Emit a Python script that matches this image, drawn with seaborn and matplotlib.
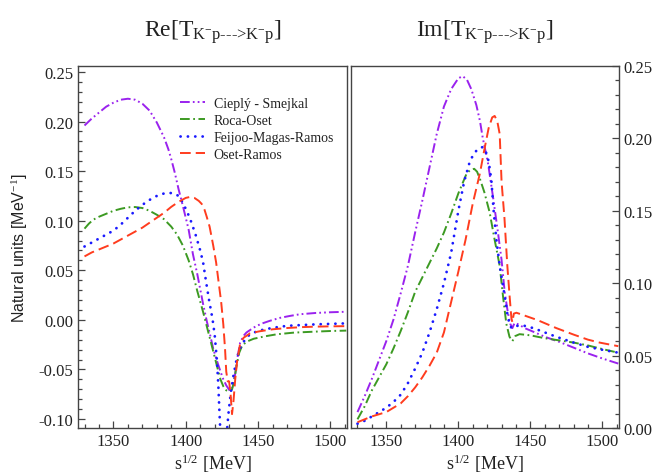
import matplotlib
matplotlib.use("Agg")
import matplotlib.pyplot as plt
from matplotlib.ticker import MultipleLocator, FormatStrFormatter
import seaborn as sns

# ---------------- data: Re[T(K-p -> K-p)] ----------------
re_cs_e = [1330, 1335, 1340, 1345, 1350, 1355, 1360, 1365, 1370, 1375, 1380, 1385, 1388,
           1390, 1392.5, 1395, 1398, 1402, 1405, 1408, 1410, 1412, 1414.5, 1417, 1419,
           1421.5, 1424, 1426, 1428, 1430.5, 1432, 1434, 1436, 1437.6, 1440, 1442, 1447,
           1452, 1458, 1465, 1472, 1479, 1490, 1500, 1511]
re_cs_v = [0.196, 0.203, 0.209, 0.215, 0.219, 0.222, 0.223, 0.222, 0.218, 0.211, 0.199, 0.184, 0.172,
           0.162, 0.148, 0.132, 0.115, 0.091, 0.066, 0.046, 0.031, 0.016, -0.001, -0.016, -0.029,
           -0.041, -0.052, -0.060, -0.066, -0.0715, -0.069, -0.056, -0.036, -0.023, -0.016, -0.0127, -0.0077,
           -0.004, -0.001, 0.002, 0.004, 0.0057, 0.007, 0.0077, 0.0082]

re_ro_e = [1330, 1333, 1336, 1340, 1345, 1350, 1355, 1360, 1365, 1370, 1375, 1380, 1385,
           1390, 1394, 1398, 1402, 1405, 1408, 1412, 1415, 1418, 1421.5, 1424, 1426, 1428,
           1430, 1432, 1433.5, 1435, 1437, 1439, 1442, 1447, 1455, 1463, 1475, 1490, 1500, 1511]
re_ro_v = [0.092, 0.097, 0.101, 0.104, 0.107, 0.110, 0.112, 0.1135, 0.1138, 0.1128, 0.110, 0.106, 0.1015,
           0.094, 0.086, 0.075, 0.060, 0.046, 0.029, 0.008, -0.009, -0.026, -0.046, -0.060, -0.067, -0.071,
           -0.0725, -0.070, -0.062, -0.047, -0.033, -0.026, -0.022, -0.019, -0.0165, -0.0145, -0.0128, -0.0118, -0.0112, -0.0108]

re_fmr_e = [1330, 1335, 1340, 1345, 1350, 1355, 1360, 1365, 1370, 1375, 1380, 1385, 1389,
            1392, 1395, 1398, 1401, 1404, 1407, 1410, 1412, 1414, 1416, 1418.5, 1420, 1421.5,
            1422.5, 1423.3, 1424, 1426, 1428, 1429.5, 1431, 1433, 1435, 1437, 1440, 1444,
            1450, 1460, 1470, 1480, 1490, 1500, 1511]
re_fmr_v = [0.074, 0.078, 0.082, 0.086, 0.090, 0.096, 0.103, 0.110, 0.116, 0.121, 0.125, 0.1275, 0.128,
            0.1275, 0.125, 0.118, 0.109, 0.098, 0.085, 0.070, 0.058, 0.039, 0.021, 0.001, -0.015, -0.040,
            -0.065, -0.093, -0.115, -0.140, -0.120, -0.095, -0.075, -0.056, -0.041, -0.030, -0.022, -0.015,
            -0.011, -0.008, -0.006, -0.0052, -0.0045, -0.004, -0.0035]

re_or_e = [1330, 1335, 1340, 1345, 1350, 1355, 1360, 1365, 1370, 1375, 1380, 1385, 1390,
           1395, 1400, 1403, 1406, 1409, 1411, 1413, 1414.5, 1416.5, 1419, 1421, 1423, 1424.5,
           1426, 1427.2, 1428, 1429, 1430, 1431, 1432, 1433, 1434.2, 1435.5, 1437.6, 1440,
           1444.5, 1451, 1460, 1470, 1480, 1490, 1500, 1511]
re_or_v = [0.064, 0.068, 0.071, 0.074, 0.077, 0.081, 0.085, 0.089, 0.093, 0.098, 0.103, 0.108, 0.114,
           0.119, 0.123, 0.124, 0.123, 0.120, 0.117, 0.111, 0.104, 0.094, 0.075, 0.058, 0.035, 0.018,
           -0.005, -0.030, -0.052, -0.062, -0.062, -0.075, -0.095, -0.082, -0.060, -0.042, -0.024, -0.018,
           -0.0135, -0.0115, -0.0095, -0.0082, -0.0073, -0.0068, -0.0065, -0.0063]

# ---------------- data: Im[T(K-p -> K-p)] ----------------
im_cs_e = [1330, 1335, 1340, 1345, 1350, 1355, 1360, 1365, 1370, 1375, 1380, 1385, 1390,
           1395, 1400, 1403, 1406, 1409, 1412.5, 1415, 1417, 1420.5, 1424, 1427.5, 1430,
           1432.2, 1434.4, 1436, 1437.5, 1439, 1442, 1446, 1452, 1460, 1470, 1480, 1490, 1500, 1511]
im_cs_v = [0.011, 0.022, 0.034, 0.047, 0.060, 0.075, 0.093, 0.112, 0.135, 0.157, 0.180, 0.203, 0.222,
           0.234, 0.2415, 0.243, 0.2405, 0.234, 0.223, 0.212, 0.200, 0.1835, 0.160, 0.135, 0.116,
           0.0935, 0.0796, 0.072, 0.069, 0.0725, 0.0715, 0.069, 0.0665, 0.063, 0.0595, 0.0555, 0.0515, 0.048, 0.0445]

im_ro_e = [1330, 1335, 1340, 1345, 1350, 1355, 1360, 1365, 1370, 1375, 1380, 1385, 1390,
           1395, 1400, 1405.6, 1408, 1411, 1413, 1415, 1418, 1421.7, 1425, 1428.7, 1431,
           1433.3, 1435.5, 1437.5, 1439.5, 1442.5, 1450, 1460, 1470, 1480, 1490, 1500, 1511]
im_ro_v = [0.006, 0.015, 0.026, 0.035, 0.044, 0.055, 0.067, 0.080, 0.094, 0.104, 0.114, 0.124, 0.135,
           0.148, 0.162, 0.1754, 0.178, 0.179, 0.177, 0.172, 0.163, 0.149, 0.131, 0.112, 0.091,
           0.072, 0.063, 0.060, 0.0635, 0.0648, 0.064, 0.062, 0.0605, 0.059, 0.057, 0.0545, 0.052]

im_fmr_e = [1330, 1335, 1340, 1345, 1350, 1355, 1360, 1365, 1370, 1375, 1380, 1385, 1390,
            1395, 1400, 1404, 1407.8, 1410, 1412.5, 1415, 1417, 1419, 1420.6, 1422, 1423,
            1424.5, 1426.4, 1428.7, 1432.2, 1433.8, 1435.6, 1437, 1440, 1445, 1452, 1460,
            1468, 1480, 1490, 1500, 1511]
im_fmr_v = [0.003, 0.005, 0.008, 0.011, 0.014, 0.018, 0.023, 0.031, 0.041, 0.052, 0.066, 0.082, 0.100,
            0.121, 0.150, 0.170, 0.1835, 0.188, 0.1915, 0.1935, 0.194, 0.191, 0.186, 0.178, 0.170,
            0.150, 0.130, 0.112, 0.091, 0.080, 0.071, 0.069, 0.0705, 0.0708, 0.069, 0.066,
            0.063, 0.059, 0.056, 0.054, 0.052]

im_or_e = [1330, 1335, 1340, 1345, 1350, 1355, 1360, 1365, 1370, 1375, 1380, 1385, 1390,
           1395, 1400, 1405, 1410, 1415, 1418, 1421, 1423.5, 1425.2, 1427, 1428.7, 1430,
           1432, 1434, 1435.5, 1436.8, 1437.5, 1438.5, 1440.3, 1445, 1455, 1468, 1480, 1490, 1498, 1511]
im_or_v = [0.004, 0.006, 0.008, 0.0095, 0.011, 0.014, 0.017, 0.022, 0.028, 0.035, 0.043, 0.052, 0.066,
           0.087, 0.108, 0.130, 0.155, 0.176, 0.192, 0.207, 0.2145, 0.2155, 0.212, 0.203, 0.170,
           0.145, 0.112, 0.092, 0.076, 0.073, 0.079, 0.0796, 0.078, 0.0745, 0.069, 0.0645, 0.061, 0.059, 0.0565]

labels = ["Ciepl\u00fd - Smejkal", "Roca-Oset", "Feijoo-Magas-Ramos", "Oset-Ramos"]
colors = ["#9a22ee", "#3c9a22", "#1a1aff", "#ff3c1e"]

# ---------------- style ----------------
sns.set_theme(style="ticks")
plt.rcParams["font.family"] = ["Liberation Serif", "DejaVu Serif"]
plt.rcParams["mathtext.fontset"] = "custom"
plt.rcParams["mathtext.rm"] = "Liberation Serif"
plt.rcParams["mathtext.it"] = "Liberation Serif:italic"
plt.rcParams["mathtext.bf"] = "Liberation Serif:bold"
plt.rcParams["axes.unicode_minus"] = False

line_styles = [
    dict(lw=1.4, linestyle=(0, (5, 1.6, 0.9, 1.6, 0.9, 1.6))),
    dict(lw=1.4, linestyle=(0, (5, 1.8, 0.9, 1.8))),
    dict(lw=2.0, linestyle=(0, (0.05, 2.6)), dash_capstyle="round"),
    dict(lw=1.4, linestyle=(0, (5.5, 2.6))),
]

fig = plt.figure(figsize=(6.57, 4.77), dpi=100)
ax_re = fig.add_axes([78 / 657, 48 / 477, 269 / 657, 362 / 477])
ax_im = fig.add_axes([351 / 657, 48 / 477, 268 / 657, 362 / 477])

re_sets = [(re_cs_e, re_cs_v), (re_ro_e, re_ro_v), (re_fmr_e, re_fmr_v), (re_or_e, re_or_v)]
im_sets = [(im_cs_e, im_cs_v), (im_ro_e, im_ro_v), (im_fmr_e, im_fmr_v), (im_or_e, im_or_v)]

for (e, v), lab, col, st in zip(re_sets, labels, colors, line_styles):
    sns.lineplot(x=e, y=v, ax=ax_re, color=col, label=lab, estimator=None, sort=False, **st)
for (e, v), col, st in zip(im_sets, colors, line_styles):
    sns.lineplot(x=e, y=v, ax=ax_im, color=col, estimator=None, sort=False, **st)

frame_col = "#444444"
for ax in (ax_re, ax_im):
    ax.set_xlim(1325.5, 1511.5)
    ax.xaxis.set_major_locator(MultipleLocator(50))
    ax.xaxis.set_minor_locator(MultipleLocator(10))
    ax.yaxis.set_minor_locator(MultipleLocator(0.01))
    ax.yaxis.set_major_formatter(FormatStrFormatter("%.2f"))
    for sp in ax.spines.values():
        sp.set_visible(True)
        sp.set_color(frame_col)
        sp.set_linewidth(1.0)
    ax.tick_params(which="both", direction="in", colors=frame_col, labelcolor="#222222",
                   labelsize=12, width=0.9)
    ax.tick_params(which="major", length=5)
    ax.tick_params(which="minor", length=3)
    ax.set_xlabel(r"s$^{1/2}$ [MeV]", fontsize=13, color="#222222", labelpad=2)
    ax.set_ylabel("")

ax_re.set_ylim(-0.109, 0.256)
ax_re.yaxis.set_major_locator(MultipleLocator(0.05))
ax_re.tick_params(axis="y", which="both", left=True, right=False, labelleft=True)
ax_re.tick_params(axis="x", which="both", top=False)
ax_re.set_ylabel(r"Natural units [MeV$^{-1}$]", fontsize=11.5, family="Liberation Sans",
                 color="#222222", labelpad=6)

ax_im.set_ylim(0.0, 0.25)
ax_im.yaxis.set_major_locator(MultipleLocator(0.05))
ax_im.tick_params(axis="y", which="both", left=False, right=True, labelleft=False, labelright=True)
ax_im.tick_params(axis="x", which="both", top=False)

leg = ax_re.legend(loc="upper left", bbox_to_anchor=(0.38, 0.915), frameon=False,
                   fontsize=10, handlelength=1.75, handletextpad=0.65, labelspacing=0.3,
                   borderpad=0, borderaxespad=0)
for t in leg.get_texts():
    t.set_color("#222222")

sub = r"_{\mathrm{K^{-}}\text{p--->}\mathrm{K^{-}}\text{p}}"
fig.text(213 / 657, 1 - 32 / 477, r"Re[T$" + sub + r"$]", ha="center", va="center",
         fontsize=17, color="#222222")
fig.text(485 / 657, 1 - 32 / 477, r"Im[T$" + sub + r"$]", ha="center", va="center",
         fontsize=17, color="#222222")

fig.savefig("out.png", dpi=100)
